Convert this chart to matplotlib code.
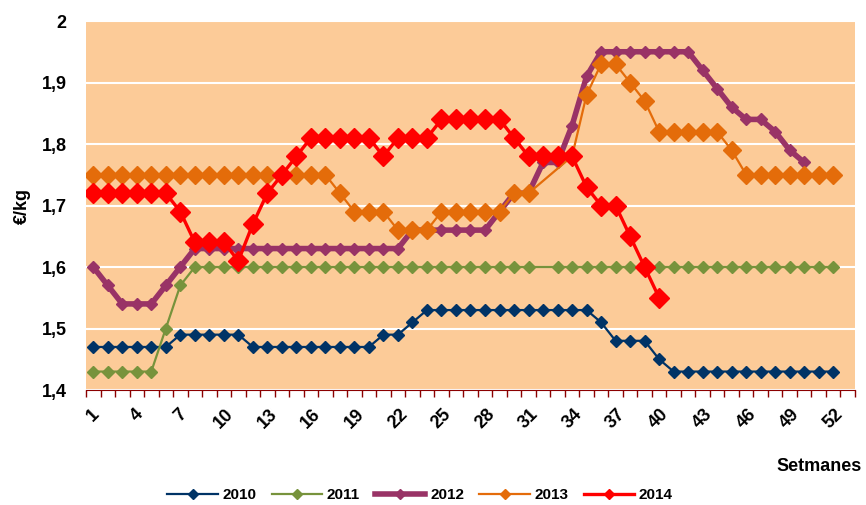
import numpy as np
import matplotlib
matplotlib.use("Agg")
import matplotlib.pyplot as plt
from matplotlib.lines import Line2D
from matplotlib.ticker import FixedLocator, FuncFormatter

plt.rcParams['font.family'] = ['Liberation Sans', 'DejaVu Sans']

# weeks 1..52 (53 category slots on the axis)
weeks = np.arange(1, 53)
week_labels = [str(w) for w in range(1, 53, 3)]

p2010 = [1.47, 1.47, 1.47, 1.47, 1.47, 1.47, 1.49, 1.49, 1.49, 1.49,
         1.49, 1.47, 1.47, 1.47, 1.47, 1.47, 1.47, 1.47, 1.47, 1.47,
         1.49, 1.49, 1.51, 1.53, 1.53, 1.53, 1.53, 1.53, 1.53, 1.53,
         1.53, 1.53, 1.53, 1.53, 1.53, 1.51, 1.48, 1.48, 1.48, 1.45,
         1.43, 1.43, 1.43, 1.43, 1.43, 1.43, 1.43, 1.43, 1.43, 1.43,
         1.43, 1.43]
p2011 = [1.43, 1.43, 1.43, 1.43, 1.43, 1.50, 1.57, 1.60, 1.60, 1.60,
         1.60, 1.60, 1.60, 1.60, 1.60, 1.60, 1.60, 1.60, 1.60, 1.60,
         1.60, 1.60, 1.60, 1.60, 1.60, 1.60, 1.60, 1.60, 1.60, 1.60,
         1.60, None, 1.60, 1.60, 1.60, 1.60, 1.60, 1.60, 1.60, 1.60,
         1.60, 1.60, 1.60, 1.60, 1.60, 1.60, 1.60, 1.60, 1.60, 1.60,
         1.60, 1.60]
p2012 = [1.60, 1.57, 1.54, 1.54, 1.54, 1.57, 1.60, 1.63, 1.63, 1.63,
         1.63, 1.63, 1.63, 1.63, 1.63, 1.63, 1.63, 1.63, 1.63, 1.63,
         1.63, 1.63, 1.66, 1.66, 1.66, 1.66, 1.66, 1.66, 1.69, 1.72,
         1.72, 1.77, 1.77, 1.83, 1.91, 1.95, 1.95, 1.95, 1.95, 1.95,
         1.95, 1.95, 1.92, 1.89, 1.86, 1.84, 1.84, 1.82, 1.79, 1.77,
         None, None]
p2013 = [1.75, 1.75, 1.75, 1.75, 1.75, 1.75, 1.75, 1.75, 1.75, 1.75,
         1.75, 1.75, 1.75, 1.75, 1.75, 1.75, 1.75, 1.72, 1.69, 1.69,
         1.69, 1.66, 1.66, 1.66, 1.69, 1.69, 1.69, 1.69, 1.69, 1.72,
         1.72, None, None, 1.78, 1.88, 1.93, 1.93, 1.90, 1.87, 1.82,
         1.82, 1.82, 1.82, 1.82, 1.79, 1.75, 1.75, 1.75, 1.75, 1.75,
         1.75, 1.75]
p2014 = [1.72, 1.72, 1.72, 1.72, 1.72, 1.72, 1.69, 1.64, 1.64, 1.64,
         1.61, 1.67, 1.72, 1.75, 1.78, 1.81, 1.81, 1.81, 1.81, 1.81,
         1.78, 1.81, 1.81, 1.81, 1.84, 1.84, 1.84, 1.84, 1.84, 1.81,
         1.78, 1.78, 1.78, 1.78, 1.73, 1.70, 1.70, 1.65, 1.60, 1.55,
         None, None, None, None, None, None, None, None, None, None,
         None, None]

series = [
    ("2010", p2010, "#003366", 1.6, 6.5),
    ("2011", p2011, "#77933C", 1.6, 6.5),
    ("2012", p2012, "#993366", 4.0, 6.5),
    ("2013", p2013, "#E46C0A", 1.6, 9.0),
    ("2014", p2014, "#FF0000", 2.4, 10.0),
]

fig = plt.figure(figsize=(8.66, 5.05), dpi=100)
ax = fig.add_axes([0.0993, 0.2277, 0.8880, 0.7307])
ax.set_facecolor("#FCCB98")

handles = []
for name, vals, col, lw, ms in series:
    y = np.array([np.nan if v is None else v for v in vals], dtype=float)
    ok = ~np.isnan(y)
    # excel joins the line across missing weeks
    ax.plot(weeks[ok], y[ok], color=col, lw=lw, marker="D", ms=ms,
            mec=col, mfc=col)
    handles.append(Line2D([], [], color=col, lw=lw, marker="D", ms=5.5,
                          mec=col, mfc=col, label=name))

ax.set_xlim(0.5, 53.5)
ax.set_ylim(1.4, 2.0)
ax.set_yticks([1.4, 1.5, 1.6, 1.7, 1.8, 1.9, 2.0])
ax.yaxis.set_major_formatter(FuncFormatter(
    lambda v, p: ("%g" % round(v, 1)).replace(".", ",")))
ax.grid(axis="y", color="white", lw=1.5)
ax.set_axisbelow(True)

ax.xaxis.set_major_locator(FixedLocator(list(range(1, 53, 3))))
ax.set_xticklabels(week_labels, rotation=45, fontsize=13, fontweight="bold")
ax.xaxis.set_minor_locator(FixedLocator(np.arange(0.5, 54, 1)))
ax.tick_params(axis="x", which="major", length=0, pad=11)
ax.tick_params(axis="x", which="minor", length=5, color="#8B0000", width=1)
ax.tick_params(axis="y", length=0, pad=14, labelsize=13)
for t in ax.get_yticklabels():
    t.set_fontweight("bold")

for s in ["top", "right", "left"]:
    ax.spines[s].set_visible(False)
ax.spines["bottom"].set_color("#8B0000")

ax.set_ylabel("€/kg", fontsize=13, fontweight="bold", labelpad=8)
fig.text(0.995, 0.077, "Setmanes", ha="right", va="center",
         fontsize=13, fontweight="bold")

fig.legend(handles=handles, loc="center", bbox_to_anchor=(0.485, 0.02),
           ncol=5, frameon=False, prop={"weight": "bold", "size": 11},
           handlelength=3.3, handletextpad=0.3, columnspacing=1.0)

fig.savefig("out.png", dpi=100)
